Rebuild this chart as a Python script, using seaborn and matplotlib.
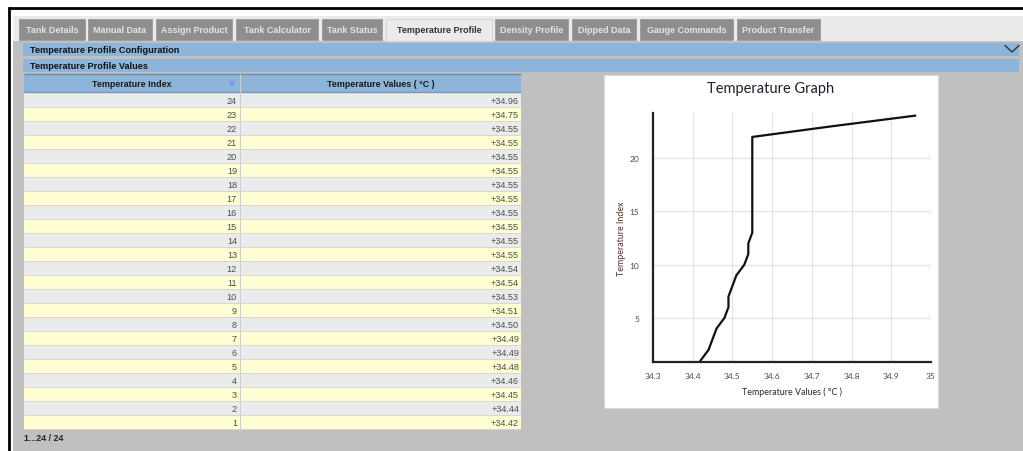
import matplotlib
matplotlib.use("Agg")
import matplotlib.pyplot as plt
import seaborn as sns
import pandas as pd
from matplotlib.patches import Rectangle, Polygon

# ---------------- data ----------------
temperature_index = [24, 23, 22, 21, 20, 19, 18, 17, 16, 15, 14, 13,
                     12, 11, 10, 9, 8, 7, 6, 5, 4, 3, 2, 1]
temperature_values = [34.96, 34.75, 34.55, 34.55, 34.55, 34.55, 34.55, 34.55,
                      34.55, 34.55, 34.55, 34.55, 34.54, 34.54, 34.53, 34.51,
                      34.50, 34.49, 34.49, 34.48, 34.46, 34.45, 34.44, 34.42]
tab_labels = ["Tank Details", "Manual Data", "Assign Product", "Tank Calculator",
              "Tank Status", "Temperature Profile", "Density Profile", "Dipped Data",
              "Gauge Commands", "Product Transfer"]
active_tab = "Temperature Profile"
x_ticks = [34.3, 34.4, 34.5, 34.6, 34.7, 34.8, 34.9, 35]
x_tick_labels = ["34.3", "34.4", "34.5", "34.6", "34.7", "34.8", "34.9", "35"]
y_ticks = [5, 10, 15, 20]
footer_text = "1...24 / 24"

df = pd.DataFrame({"Temperature Index": temperature_index,
                   "Temperature Values ( °C )": temperature_values})

# ---------------- layout (pixels) ----------------
W, H = 1023, 452
tab_edges = [(19, 85), (88, 152), (156, 232), (236, 318), (322, 382),
             (386, 492), (495, 568), (572, 636), (640, 733), (737, 820)]

TABLE_FONT = "Liberation Sans"
CHART_FONT = "Lato"

fig = plt.figure(figsize=(W / 100, H / 100), dpi=100)
fig.patch.set_facecolor("white")
bg = fig.add_axes([0, 0, 1, 1])
bg.set_xlim(0, W)
bg.set_ylim(H, 0)
bg.axis("off")


def rect(x0, y0, x1, y1, fc, ec="none", lw=0, z=1):
    bg.add_patch(Rectangle((x0, y0), x1 - x0, y1 - y0, facecolor=fc,
                           edgecolor=ec, linewidth=lw, zorder=z))


def hline(x0, x1, y, color, lw=0.8, z=3):
    bg.plot([x0, x1], [y, y], color=color, lw=lw, zorder=z, solid_capstyle="butt")


def vline(x, y0, y1, color, lw=0.8, z=3):
    bg.plot([x, x], [y0, y1], color=color, lw=lw, zorder=z, solid_capstyle="butt")


# outer black frame
hline(8, W, 9, "black", lw=2.0, z=5)
vline(9, 8, H, "black", lw=2.0, z=5)

# panels
rect(13, 17, W, H, "#c0c0c0")
rect(13, 17, W, 42, "#ebebeb", z=1.5)

# tabs
for label, (x0, x1) in zip(tab_labels, tab_edges):
    active = label == active_tab
    rect(x0, 20, x1, 42 if active else 41, "#ebebeb" if active else "#8e8e8e",
         ec="#d0d0d0" if active else "#9a9a9a", lw=0.6, z=2)
    bg.text((x0 + x1) / 2, 30.5, label, ha="center", va="center",
            fontsize=6.5, fontweight="bold", family=TABLE_FONT,
            color="#333333" if active else "#e4e4e4", zorder=4)

# blue bars
BLUE = "#8db4d9"
rect(23, 44, 1019, 57, BLUE, z=2)
rect(23, 60, 1019, 73, BLUE, z=2)
bg.text(30, 50.5, "Temperature Profile Configuration", ha="left", va="center",
        fontsize=6.6, fontweight="bold", family=TABLE_FONT, color="#111111", zorder=4)
bg.text(30, 66.5, "Temperature Profile Values", ha="left", va="center",
        fontsize=6.6, fontweight="bold", family=TABLE_FONT, color="#111111", zorder=4)
bg.plot([1005, 1012, 1019], [46.5, 53, 46.5], color="#333333", lw=1.0, zorder=4)

# table
TX0, TXM, TX1 = 24, 240, 521
rect(TX0, 75, TX1, 93, BLUE, z=2)
hline(TX0, TX1, 75, "#6f8aa6", lw=1.0)
hline(TX0, TX1, 93, "#7597bb", lw=1.0)
vline(TXM, 75, 431, "#cfcfcf", lw=0.8, z=3.5)
bg.text((TX0 + TXM) / 2, 84.5, df.columns[0], ha="center", va="center",
        fontsize=6.4, fontweight="bold", family=TABLE_FONT, color="#1a1a1a", zorder=4)
bg.text((TXM + TX1) / 2, 84.5, df.columns[1], ha="center", va="center",
        fontsize=6.4, fontweight="bold", family=TABLE_FONT, color="#1a1a1a", zorder=4)
bg.add_patch(Polygon([[229, 82.5], [235, 82.5], [232, 87.5]], closed=True,
                     facecolor="#8a8ae6", edgecolor="none", zorder=4))

ROW_H = 14
for i, (idx, val) in enumerate(zip(df.iloc[:, 0], df.iloc[:, 1])):
    y0 = 94 + i * ROW_H
    rect(TX0, y0, TX1, y0 + ROW_H, "#ebebeb" if i % 2 == 0 else "#ffffd3", z=2)
    hline(TX0, TX1, y0 + ROW_H, "#d6d6d6", lw=0.7)
    yc = y0 + ROW_H / 2 + 0.3
    bg.text(TXM - 3, yc, f"{idx}", ha="right", va="center", fontsize=6.6,
            family=TABLE_FONT, color="#4d4d4d", zorder=4)
    bg.text(TX1 - 2, yc, f"+{val:.2f}", ha="right", va="center", fontsize=6.6,
            family=TABLE_FONT, color="#4d4d4d", zorder=4)

bg.text(24, 438.5, footer_text, ha="left", va="center", fontsize=6.4,
        fontweight="bold", family=TABLE_FONT, color="#222222", zorder=4)

# chart panel
rect(604, 76, 938, 409, "white", ec="#d9d9d9", lw=0.8, z=2)
bg.text(771, 89, "Temperature Graph", ha="center", va="center", fontsize=10.5,
        family=CHART_FONT, color="#1f1f2e", zorder=4)

# ---------------- chart ----------------
AX_L, AX_R, AX_B, AX_T = 653, 931, 363, 114
ax = fig.add_axes([AX_L / W, (H - AX_B) / H, (AX_R - AX_L) / W, (AX_B - AX_T) / H])
ax.set_facecolor("white")
sns.lineplot(data=df, x="Temperature Values ( °C )", y="Temperature Index",
             sort=False, estimator=None, color="#111111", linewidth=1.6, ax=ax)
ax.set_xlim(34.3, 35.0)
ax.set_ylim(0.85, 24.25)
ax.set_xticks(x_ticks)
ax.set_xticklabels(x_tick_labels)
ax.set_yticks(y_ticks)
ax.grid(True, color="#e3e3e3", linewidth=0.9)
ax.set_axisbelow(True)
for s in ["top", "right"]:
    ax.spines[s].set_visible(False)
for s in ["left", "bottom"]:
    ax.spines[s].set_color("#222222")
    ax.spines[s].set_linewidth(1.6)
ax.tick_params(length=0, labelsize=6.0, colors="#4a4a4a")
ax.tick_params(axis="x", pad=7)
ax.tick_params(axis="y", pad=10)
for t in ax.get_xticklabels() + ax.get_yticklabels():
    t.set_family(CHART_FONT)
ax.set_xlabel("Temperature Values ( °C )", fontsize=6.4, family=CHART_FONT, color="#2a2a2a")
ax.set_ylabel("Temperature Index", fontsize=6.4, family=CHART_FONT, color="#5a2e2e")
ax.xaxis.label.set_va("center")
ax.yaxis.label.set_va("center")
ax.xaxis.set_label_coords(0.5, (AX_B - 392) / (AX_B - AX_T))
ax.yaxis.set_label_coords((622 - AX_L) / (AX_R - AX_L), 0.5)

fig.savefig("out.png", dpi=100)
